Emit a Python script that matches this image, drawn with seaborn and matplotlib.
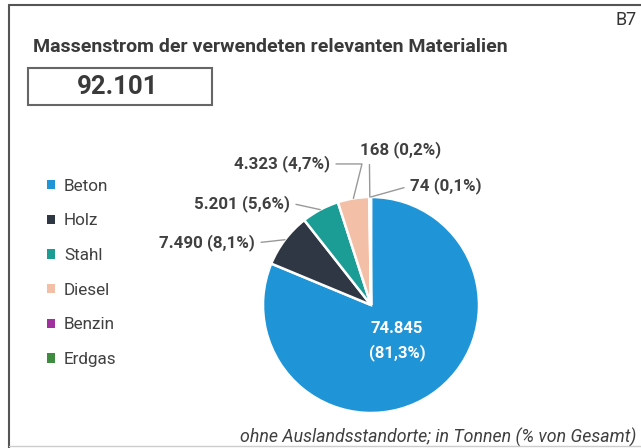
import matplotlib.pyplot as plt
import seaborn as sns
import numpy as np
from matplotlib.lines import Line2D
from matplotlib.patches import Patch, Rectangle

sns.set_theme(style="white")
plt.rcParams["font.family"] = ["Roboto", "DejaVu Sans"]

materials = ["Beton", "Holz", "Stahl", "Diesel", "Benzin", "Erdgas"]
tonnes = [74845, 7490, 5201, 4323, 168, 74]
percent_labels = ["81,3%", "8,1%", "5,6%", "4,7%", "0,2%", "0,1%"]
value_labels = ["74.845", "7.490", "5.201", "4.323", "168", "74"]
total_label = "92.101"
colors = sns.color_palette(["#1f95d8", "#2f3744", "#1b9c95", "#f3bfa6", "#a1309f", "#3f8b3f"])

W, H = 641, 448
fig = plt.figure(figsize=(W / 100, H / 100), dpi=100)
fig.patch.set_facecolor("white")

# frame round the picture
fig.add_artist(Line2D([9 / W, 9 / W], [0, 1 - 5 / H], color="#555555", lw=1.5))
fig.add_artist(Line2D([9 / W, 1], [1 - 5 / H, 1 - 5 / H], color="#555555", lw=1.5))
fig.add_artist(Line2D([9 / W, 1], [2 / H, 2 / H], color="#cccccc", lw=1.0))

fig.text(637 / W, 1 - 20 / H, "B7", ha="right", va="center", fontsize=13, color="#333333")
fig.text(33 / W, 1 - 47 / H, "Massenstrom der verwendeten relevanten Materialien",
         ha="left", va="center", fontsize=14, fontweight="bold", color="#3a3a3a")
fig.add_artist(Rectangle((28 / W, 1 - 105 / H), 184 / W, 37 / H, transform=fig.transFigure,
                         facecolor="white", edgecolor="#666666", lw=1.5))
fig.text(118 / W, 1 - 87 / H, total_label, ha="center", va="center",
         fontsize=18.5, fontweight="bold", color="#3a3a3a")
fig.text(636 / W, 1 - 437 / H, "ohne Auslandsstandorte; in Tonnen (% von Gesamt)",
         ha="right", va="center", fontsize=12.8, style="italic", color="#404040")

# pie
ax = fig.add_axes([263 / W, (H - 413) / H, 216 / W, 216 / H])
wedges, _ = ax.pie(tonnes, colors=colors, startangle=90, counterclock=False,
                   wedgeprops=dict(edgecolor="white", linewidth=1.8))
ax.set_xlim(-1, 1)
ax.set_ylim(-1, 1)
ax.set_aspect("equal")
ax.axis("off")

# label layout: (x, y, ha, connection, relpos)
layout = [
    None,
    (-1.074, 0.574, "right", "arc3", (1, 0.5)),
    (-0.75, 0.944, "right", "arc3", (1, 0.5)),
    (-0.38, 1.306, "right", "angle,angleA=0,angleB=76,rad=0", (1, 0.5)),
    (0.278, 1.435, "center", "arc3", (0.11, 0)),
    (0.361, 1.102, "left", "arc3", (0, 0.5)),
]
for i, w in enumerate(wedges):
    if layout[i] is None:
        ax.text(0.241, -0.333, f"{value_labels[i]}\n({percent_labels[i]})", ha="center",
                va="center", color="white", fontsize=12, fontweight="bold", linespacing=1.55)
        continue
    mid = np.deg2rad((w.theta1 + w.theta2) / 2)
    xy = (np.cos(mid), np.sin(mid))
    x, y, ha, conn, rel = layout[i]
    ax.annotate(f"{value_labels[i]} ({percent_labels[i]})", xy=xy, xytext=(x, y), ha=ha,
                va="center", fontsize=12.2, fontweight="bold", color="#404040",
                annotation_clip=False,
                arrowprops=dict(arrowstyle="-", color="#999999", lw=1.0,
                                connectionstyle=conn, relpos=rel, shrinkA=2, shrinkB=0))

handles = [Patch(facecolor=c, edgecolor="none") for c in colors]
fig.legend(handles, materials, loc="upper left", bbox_to_anchor=(40 / W, 1 - 172 / H),
           frameon=False, fontsize=12.3, handlelength=0.45, handleheight=0.45,
           handletextpad=0.55, labelspacing=1.15, labelcolor="#404040", borderaxespad=0)

fig.savefig("out.png", dpi=100)
